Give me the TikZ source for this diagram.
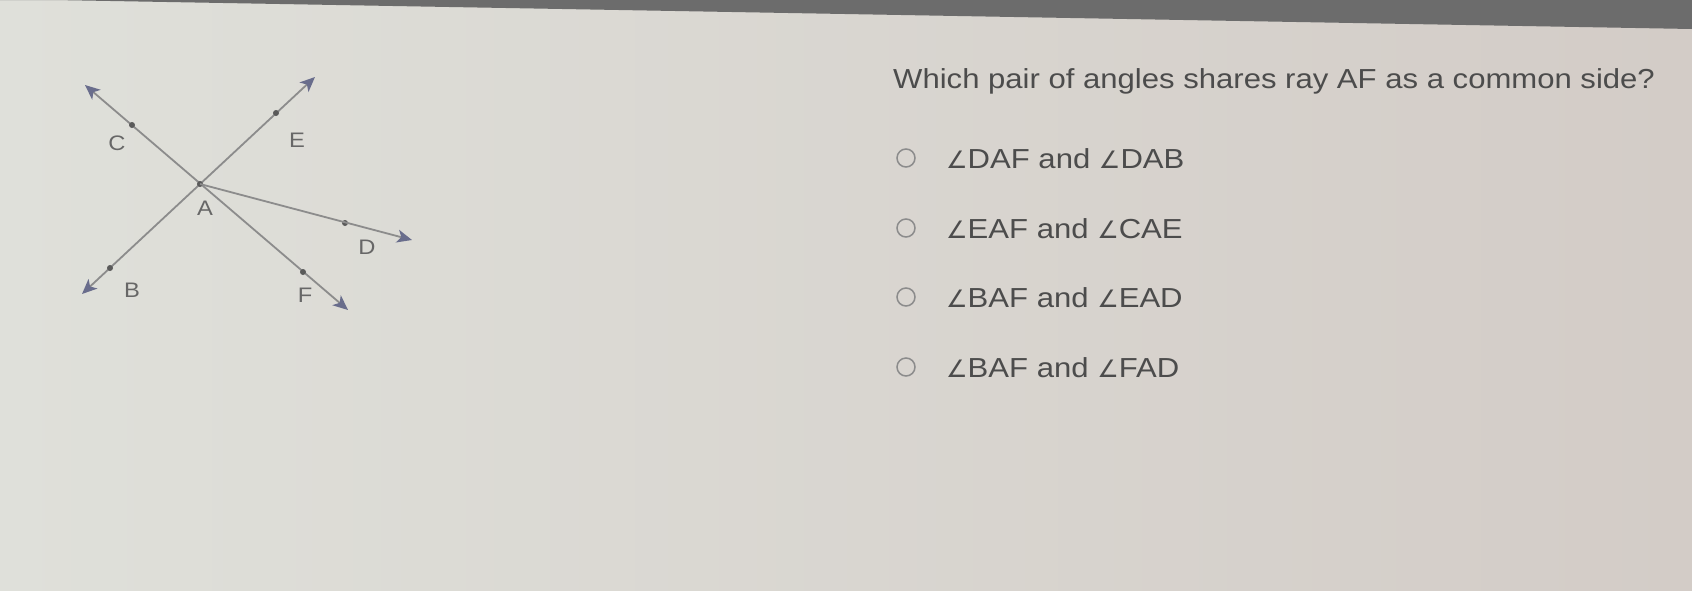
\documentclass[tikz,border=0pt]{standalone}
\usepackage{fontspec}
\setmainfont{Liberation Sans}[FakeStretch=1.13]
\newfontfamily\angfont{DejaVu Sans}
\usetikzlibrary{arrows.meta, positioning}
\definecolor{screenleft}{HTML}{DFE0DA}
\definecolor{screenmid}{HTML}{DBDBD3}
\definecolor{screenright}{HTML}{D3CCC7}
\definecolor{bezel}{HTML}{6C6C6C}
\definecolor{linegray}{HTML}{8C8C8C}
\definecolor{tipblue}{HTML}{696D8C}
\definecolor{dotgray}{HTML}{5A5A5A}
\definecolor{textgray}{HTML}{4C4C4C}
\newcommand{\angsym}{{\angfont\fontsize{24}{28}\selectfont ∠}}
\tikzset{
    screen tip/.tip={Stealth[length=15pt, width=13pt, inset=4pt, color=tipblue]},
    point/.style={circle, fill=dotgray, inner sep=0pt, minimum size=6pt},
    pointlabel/.style={text=textgray!85, font=\fontsize{21}{24}\selectfont, inner sep=0pt},
    fullline/.style={draw=linegray, line width=1.8pt, screen tip-screen tip},
    halfline/.style={draw=linegray, line width=1.8pt, -screen tip},
    question/.style={anchor=base west, text=textgray, font=\fontsize{27.5}{32}\selectfont, inner sep=0pt},
    choice/.style={anchor=base west, text=textgray, font=\fontsize{27.5}{32}\selectfont, inner sep=0pt},
    radio/.style={circle, draw=linegray, line width=1.5pt, minimum size=18pt, inner sep=0pt}
}

\begin{document}
\begin{tikzpicture}[x=1pt, y=-1pt]
    \useasboundingbox (0,0) rectangle (1692,590);

    % Screen and bezel
    \shade[left color=screenleft, middle color=screenmid, right color=screenright] (0,0) rectangle (1692,590);
    \fill[bezel] (0,0) -- (1692,0) -- (1692,29) -- (54,0) -- cycle;

    % Arrow ends
    \coordinate (tipC) at (85,85);
    \coordinate (tipF) at (348,310);
    \coordinate (tipB) at (82,294);
    \coordinate (tipE) at (315,77);
    \coordinate (tipD) at (412,240);

    % Lines and ray
    \draw[fullline] (tipC) -- (tipF);
    \draw[fullline] (tipB) -- (tipE);

    % Points
    \node[point] (A) at (200,184) {};
    \node[point] (C) at (132,125) {};
    \node[point] (E) at (276,113) {};
    \node[point] (D) at (345,223) {};
    \node[point] (B) at (110,268) {};
    \node[point] (F) at (303,272) {};

    \draw[halfline] (A.center) -- (tipD);

    % Point labels
    \node[pointlabel] (lblC) at (117,143) {C};
    \node[pointlabel] (lblE) at (297,140) {E};
    \node[pointlabel] (lblA) at (205,208) {A};
    \node[pointlabel] (lblD) at (367,247) {D};
    \node[pointlabel] (lblB) at (132,290) {B};
    \node[pointlabel] (lblF) at (305,295) {F};

    % Question
    \node[question] (ask) at (893,88) {Which pair of angles shares ray AF as a common side?};

    % Answer choices
    \node[radio] (radio1) at (906,158) {};
    \node[choice] (choice1) at (946,168) {\angsym DAF and \angsym DAB};
    \node[radio] (radio2) at (906,228) {};
    \node[choice] (choice2) at (946,238) {\angsym EAF and \angsym CAE};
    \node[radio] (radio3) at (906,297) {};
    \node[choice] (choice3) at (946,307) {\angsym BAF and \angsym EAD};
    \node[radio] (radio4) at (906,367) {};
    \node[choice] (choice4) at (946,377) {\angsym BAF and \angsym FAD};
\end{tikzpicture}
\end{document}
